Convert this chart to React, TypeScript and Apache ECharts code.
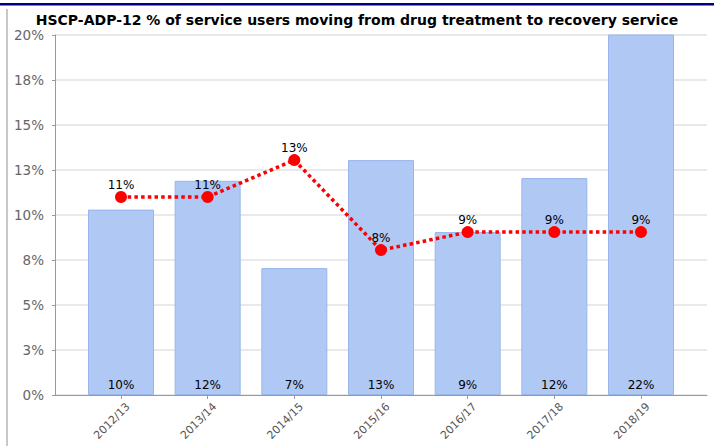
import React, { useEffect, useRef } from "react";
import * as echarts from "echarts";

const titleText = "HSCP-ADP-12 % of service users moving from drug treatment to recovery service";
const categories = ["2012/13", "2013/14", "2014/15", "2015/16", "2016/17", "2017/18", "2018/19"];
const barValues = [10.3, 11.9, 7.05, 13.05, 9.05, 12.05, 22];
const lineValues = [11.0, 11.0, 13.05, 8.05, 9.05, 9.05, 9.05];
const yMin = 0;
const yMax = 20;
const yInterval = 2.5;

const pct = (v: number) => Math.round(v) + "%";

export default function App() {
  const ref = useRef<HTMLDivElement>(null);
  useEffect(() => {
    document.body.style.margin = "0";
    const chart = echarts.init(ref.current!, null, { renderer: "svg" });
    const font = "DejaVu Sans";
    chart.setOption({
      animation: false,
      backgroundColor: "#ffffff",
      textStyle: { fontFamily: font },
      title: {
        text: titleText,
        left: "center",
        top: 8,
        textStyle: { fontFamily: font, fontSize: 14, fontWeight: "bold", color: "#000" },
      },
      graphic: [
        { type: "rect", left: 0, top: 3, shape: { width: 714, height: 2.5 }, style: { fill: "#000080" } },
        { type: "rect", left: 6, top: 9, shape: { width: 2, height: 437 }, style: { fill: "#c8c8c8" } },
      ],
      grid: [
        { left: 55, right: 7, top: 35, bottom: 51, containLabel: false, outerBoundsMode: "none" },
        { left: 77.67, right: 29.67, top: 35, bottom: 51, containLabel: false, outerBoundsMode: "none" },
      ],
      xAxis: [
        {
          type: "value",
          gridIndex: 0,
          min: 0,
          max: 1,
          axisLine: { show: true, onZero: false, lineStyle: { color: "#999", width: 1 } },
          axisTick: { show: false },
          axisLabel: { show: false },
          splitLine: { show: false },
        },
        {
          type: "category",
          gridIndex: 1,
          data: categories,
          axisLine: { show: false },
          axisTick: { show: true, alignWithLabel: true, length: 4, lineStyle: { color: "#999" } },
          axisLabel: {
            rotate: 45,
            color: "#555",
            fontSize: 11,
            margin: 17,
            padding: [0, -10, 0, 0],
            fontFamily: font,
            interval: 0,
          },
          splitLine: { show: false },
        },
      ],
      yAxis: [
        {
          type: "value",
          gridIndex: 0,
          min: yMin,
          max: yMax,
          interval: yInterval,
          axisLine: { show: true, lineStyle: { color: "#999", width: 1 } },
          axisTick: { show: true, length: 3, lineStyle: { color: "#999" } },
          axisLabel: { formatter: (v: number) => pct(v), color: "#666", fontSize: 13.5, margin: 11, fontFamily: font },
          splitLine: { show: true, lineStyle: { color: "#e2e2e2", width: 1.5 } },
        },
        {
          type: "value",
          gridIndex: 1,
          min: yMin,
          max: yMax,
          interval: yInterval,
          show: false,
          splitLine: { show: false },
        },
      ],
      series: [
        {
          type: "bar",
          xAxisIndex: 1,
          yAxisIndex: 1,
          data: barValues,
          barWidth: 66,
          itemStyle: { color: "#b0c8f4", borderColor: "#98b6ec", borderWidth: 1 },
          label: {
            show: true,
            position: "insideBottom",
            distance: 4,
            color: "#000",
            fontSize: 12,
            fontFamily: font,
            formatter: (p: any) => pct(p.value),
          },
          z: 2,
        },
        {
          type: "line",
          xAxisIndex: 1,
          yAxisIndex: 1,
          data: lineValues,
          color: "#ff0000",
          symbol: "circle",
          symbolSize: 12,
          lineStyle: { color: "#ff0000", width: 3.5, type: [3.5, 3.2] },
          itemStyle: { color: "#ff0000" },
          label: {
            show: true,
            position: "top",
            distance: 0,
            color: "#000",
            fontSize: 12,
            fontFamily: font,
            formatter: (p: any) => pct(p.value),
          },
          z: 5,
        },
      ],
    });
    return () => chart.dispose();
  }, []);
  return (
    <div
      ref={ref}
      style={{ position: "fixed", left: 0, top: 0, width: 714, height: 446 }}
    />
  );
}
